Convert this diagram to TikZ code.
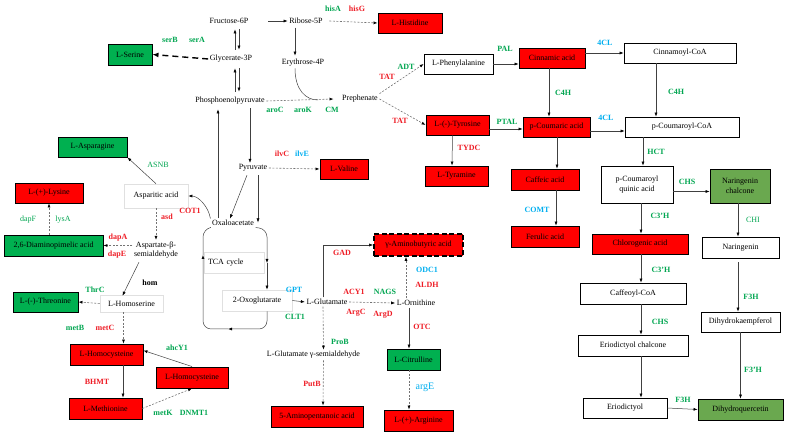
\documentclass[tikz,border=0pt]{standalone}
\usepackage{fontspec}
\setmainfont{Liberation Serif}
\usetikzlibrary{arrows.meta,calc}
\definecolor{boxred}{HTML}{FF0000}
\definecolor{boxgreen}{HTML}{00B050}
\definecolor{boxolive}{HTML}{6AA84F}
\definecolor{labgreen}{HTML}{00A550}
\definecolor{labred}{HTML}{EE1C25}
\definecolor{labblue}{HTML}{00AEEF}
\begin{document}
\begin{tikzpicture}[x=1pt,y=-1pt,
    font=\fontsize{8}{9.5}\selectfont,
    >={Latex[length=4pt,width=3pt,color=black]},
    cpd/.style={inner sep=1.5pt},
    box/.style={draw=black,line width=0.9pt,inner sep=1pt,minimum height=20pt,align=center},
    redbox/.style={box,fill=boxred},
    grnbox/.style={box,fill=boxgreen},
    olvbox/.style={box,fill=boxolive},
    whtbox/.style={box,fill=white,line width=0.7pt},
    gabbox/.style={box,fill=boxred,line width=1.6pt,dash pattern=on 5pt off 2.5pt},
    faint/.style={draw=black!12,line width=0.6pt,inner sep=1pt},
    enzg/.style={font=\fontsize{8}{9.5}\selectfont\bfseries,text=labgreen,inner sep=0pt},
    enzr/.style={font=\fontsize{8}{9.5}\selectfont\bfseries,text=labred,inner sep=0pt},
    enzb/.style={font=\fontsize{8}{9.5}\selectfont\bfseries,text=labblue,inner sep=0pt},
    enzk/.style={font=\fontsize{8}{9.5}\selectfont\bfseries,inner sep=0pt},
    thin/.style={font=\fontsize{8}{9.5}\selectfont},
    arr/.style={draw=black!75,line width=0.5pt},
    dsh/.style={draw=black!55,line width=0.6pt,dash pattern=on 2pt off 1.5pt}]
      \useasboundingbox (0,0) rectangle (788,435);
      \draw
        (229,21) node[cpd] (fru) {Fructose-6P}
        (306,21) node[cpd] (rib) {Ribose-5P}
        (231,59) node[cpd] (gly) {Glycerate-3P}
        (303,63) node[cpd] (ery) {Erythrose-4P}
        (230,101) node[cpd] (pep) {Phosphoenolpyruvate}
        (360,99) node[cpd] (pre) {Prephenate}
        (253,168) node[cpd] (pyr) {Pyruvate}
        (233,223) node[cpd] (oxa) {Oxaloacetate}
        (234,262.5) node[faint,minimum width=60pt,minimum height=21pt,text width=52pt] (tca) {TCA cycle}
        (257,300.5) node[faint,minimum width=70pt,minimum height=21pt] (oxg) {2-Oxoglutarate}
        (327,302) node[cpd] (glu) {L-Glutamate}
        (416,303) node[cpd] (orn) {L-Ornithine}
        (313.5,355) node[cpd] (gsa) {L-Glutamate γ-semialdehyde}
        (156,196) node[faint,minimum width=64pt,minimum height=24pt] (asp) {Asparitic acid}
        (156,250) node[cpd,align=center] (asa) {Aspartate-β-\\semialdehyde}
        (131.5,303.5) node[faint,minimum width=63pt,minimum height=17pt] (hse) {L-Homoserine};
      \draw
        (130,54.5) node[grnbox,minimum width=44pt,minimum height=21pt] (ser) {L-Serine}
        (410,23) node[redbox,minimum width=64pt] (his) {L-Histidine}
        (458.5,64) node[whtbox,minimum width=69pt] (phe) {L-Phenylalanine}
        (552,58) node[redbox,minimum width=66pt] (cin) {Cinnamic acid}
        (680,53) node[whtbox,minimum width=112pt,text width=104pt] (cco) {Cinnamoyl-CoA}
        (457.5,125) node[redbox,minimum width=63pt] (tyr) {L-(-)-Tyrosine}
        (556.5,127) node[redbox,minimum width=67pt] (pco) {p-Coumaric acid}
        (682,127) node[whtbox,minimum width=114pt] (pcc) {p-Coumaroyl-CoA}
        (456.5,176) node[redbox,minimum width=63pt] (tym) {L-Tyramine}
        (545,179.5) node[redbox,minimum width=68pt,minimum height=21pt] (caf) {Caffeic acid}
        (545,236.5) node[redbox,minimum width=68pt,minimum height=21pt] (fer) {Ferulic acid}
        (637,184.5) node[whtbox,minimum width=72pt,minimum height=37pt] (pcq) {p-Coumaroyl\\quinic acid}
        (740,186) node[olvbox,minimum width=60pt,minimum height=34pt] (nch) {Naringenin\\chalcone}
        (740.5,247.5) node[whtbox,minimum width=77pt,minimum height=21pt] (nar) {Naringenin}
        (640,244) node[redbox,minimum width=96pt] (chl) {Chlorogenic acid}
        (633,293.5) node[whtbox,minimum width=106pt,minimum height=21pt] (cfc) {Caffeoyl-CoA}
        (633,345.5) node[whtbox,minimum width=110pt,minimum height=21pt] (edc) {Eriodictyol chalcone}
        (625,408) node[whtbox,minimum width=84pt] (eri) {Eriodictyol}
        (740.5,322) node[whtbox,minimum width=79pt] (dhk) {Dihydrokaempferol}
        (740.5,409.5) node[olvbox,minimum width=85pt,minimum height=21pt] (dhq) {Dihydroquercetin}
        (344,169) node[redbox,minimum width=48pt] (val) {L-Valine}
        (92.5,147) node[grnbox,minimum width=69pt] (asn) {L-Asparagine}
        (49,193) node[redbox,minimum width=68pt] (lys) {L-(+)-Lysine}
        (53.5,245.5) node[grnbox,minimum width=99pt,minimum height=21pt] (dap) {2,6-Diaminopimelic acid}
        (45.5,302) node[grnbox,minimum width=65pt] (thr) {L-(-)-Threonine}
        (106.5,354.5) node[redbox,minimum width=73pt,minimum height=21pt] (hcy) {L-Homocysteine}
        (105.5,408.5) node[redbox,minimum width=73pt,minimum height=21pt] (met) {L-Methionine}
        (192,377.5) node[redbox,minimum width=72pt,minimum height=21pt] (shc) {L-Homocysteine}
        (418.5,245) node[gabbox,minimum width=89pt,minimum height=22pt] (gab) {γ-Aminobutyric acid}
        (413.5,359.5) node[grnbox,minimum width=53pt,minimum height=21pt] (cit) {L-Citrulline}
        (418.5,420.5) node[redbox,minimum width=69pt,minimum height=21pt] (arg) {L-(+)-Arginine}
        (317,416.5) node[redbox,minimum width=92pt,minimum height=21pt] (apa) {5-Aminopentanoic acid};
      \draw
        (170,40) node[enzg] (serB) {serB}
        (197,40) node[enzg] (serA) {serA}
        (333,9) node[enzg] (hisA) {hisA}
        (357,9) node[enzr] (hisG) {hisG}
        (275,110) node[enzg] (aroC) {aroC}
        (303,110) node[enzg] (aroK) {aroK}
        (332,110) node[enzg] (cm) {CM}
        (387,77) node[enzr] (tat1) {TAT}
        (400,121) node[enzr] (tat2) {TAT}
        (406,67) node[enzg] (adt) {ADT}
        (505,49) node[enzg] (pal) {PAL}
        (507,122) node[enzg] (ptal) {PTAL}
        (563,93) node[enzg] (c4h1) {C4H}
        (469,148) node[enzr] (tydc) {TYDC}
        (537,210) node[enzb] (comt) {COMT}
        (605,43) node[enzb] (cl1) {4CL}
        (606,118) node[enzb] (cl2) {4CL}
        (676,92) node[enzg] (c4h2) {C4H}
        (656,152) node[enzg] (hct) {HCT}
        (687,182) node[enzg] (chs1) {CHS}
        (753,220) node[enzg,thin] (chi) {CHI}
        (660,216) node[enzg] (c3h1) {C3'H}
        (661,270) node[enzg] (c3h2) {C3'H}
        (660,322) node[enzg] (chs2) {CHS}
        (751,297) node[enzg] (f3h1) {F3H}
        (753,370) node[enzg] (f3h2) {F3'H}
        (683,400) node[enzg] (f3h3) {F3H}
        (282,154) node[enzr] (ilvC) {ilvC}
        (302,154) node[enzb] (ilvE) {ilvE}
        (158,165) node[enzg,thin] (asnB) {ASNB}
        (190,211) node[enzr] (cot1) {COT1}
        (167,217) node[enzr] (asd) {asd}
        (28,220) node[enzg,thin] (dapF) {dapF}
        (63,220) node[enzg,thin] (lysA) {lysA}
        (118,238) node[enzr] (dapA) {dapA}
        (117,255) node[enzr] (dapE) {dapE}
        (150,283) node[enzk] (hom) {hom}
        (95,290) node[enzg] (thrC) {ThrC}
        (75,328) node[enzg] (metB) {metB}
        (105,328) node[enzr] (metC) {metC}
        (97,382) node[enzr] (bhmt) {BHMT}
        (177,348) node[enzg] (ahcY) {ahcY1}
        (163,413) node[enzg] (metK) {metK}
        (194,413) node[enzg] (dnmt) {DNMT1}
        (294,290) node[enzb] (gpt) {GPT}
        (295,317) node[enzg] (clt1) {CLT1}
        (342,253) node[enzr] (gad) {GAD}
        (354,292) node[enzr] (acy1) {ACY1}
        (385,292) node[enzg] (nags) {NAGS}
        (356,313) node[enzr] (argC) {ArgC}
        (383,315) node[enzr] (argD) {ArgD}
        (427,270) node[enzb] (odc1) {ODC1}
        (427,285) node[enzr] (aldh) {ALDH}
        (422,327) node[enzr] (otc) {OTC}
        (425,387) node[enzb,font=\fontsize{10}{12}\selectfont] (argE) {argE}
        (340,342) node[enzg] (proB) {ProB}
        (312,384) node[enzr] (putB) {PutB};
      \coordinate (merge) at (318,100);
      \coordinate (ltl) at (203,229);
      \coordinate (ltr) at (267,229);
      \coordinate (lbl) at (203,329);
      \coordinate (lbr) at (267,329);
      \coordinate (lmid) at (203,255);
      \coordinate (rmid) at (267,263);
      \coordinate (bmid) at (228,329);
      \begin{scope}[->,arr]
        \draw ($(fru.east)+(18,0)$) to (rib.west);
        \draw ($(gly.north)+(4,-4)$) to ($(fru.south)+(6,4)$);
        \draw ($(fru.south)+(10,4)$) to ($(gly.north)+(8,-4)$);
        \draw ($(pep.north)+(5,-4)$) to ($(gly.south)+(4,4)$);
        \draw ($(gly.south)+(8,4)$) to ($(pep.north)+(9,-4)$);
        \draw ($(rib.south)+(-11,2)$) to ($(ery.north)+(-8,-2)$);
        \draw[-] ($(ery.south)+(-8,0)$) .. controls +(0,22) and +(-12,0) .. (merge);
        \draw ($(pep.south)+(20,2)$) to ($(pyr.north)+(-3,0)$);
        \draw ($(oxa.north)+(-15,0)$) to ($(pep.south)+(-12,3)$);
        \draw ($(pyr.south)+(-6,2)$) to ($(oxa.north)+(-3,0)$);
        \draw ($(pyr.south)+(5,2)$) to ($(oxa.north)+(25,4)$);
        \draw (oxa.north west) .. controls +(-2,-12) and +(10,0) .. (asp.east);
        \draw (asp.north) to (asn.south east);
        \draw ($(asa.south)+(-17,2)$) to ($(hse.north)+(-9,1)$);
        \draw ($(hcy.south)+(16.5,0)$) to ($(met.north)+(17.5,0)$);
        \draw (shc.north) to ($(hcy.east)+(0,-4)$);
        \draw[rounded corners=8] (oxa.south east) -- (ltr) -- (rmid);
        \draw (rmid) to (oxg.north -| rmid);
        \draw[rounded corners=8] (oxg.south -| lbr) -- (lbr) -- (bmid);
        \draw[rounded corners=8] (bmid) -- (lbl) -- (lmid);
        \draw[-,rounded corners=8] (lmid) -- (ltl) -- (oxa.south west);
        \draw (oxg.east) to (glu.west);
        \draw ($(glu.north)+(-4,0)$) |- (gab.west);
        \draw ($(orn.south)+(-7,0)$) to ($(cit.north)+(-4.5,0)$);
        \draw (phe.east) to (phe.east -| cin.west);
        \draw (cin.east |- cco.west) to (cco.west);
        \draw ($(cin.south)+(-3,0)$) to ($(pco.north)+(-7.5,0)$);
        \draw ($(tyr.east)+(0,4)$) to ($(tyr.east -| pco.west)+(0,4)$);
        \draw ($(tyr.south)+(-5,0)$) to ($(tym.north)+(-4.5,0)$);
        \draw ($(pco.south)+(0.5,0)$) to ($(caf.north)+(12,0)$);
        \draw ($(caf.south)+(11,0)$) to ($(fer.north)+(11,0)$);
        \draw ($(pco.east)+(0,4)$) to ($(pcc.west)+(0,4)$);
        \draw ($(cco.south)+(-24,0)$) to ($(pcc.north)+(-26,0)$);
        \draw ($(pcc.south)+(-39,0)$) to ($(pcq.north)+(6,0)$);
        \draw ($(pcq.east)+(0,7)$) to ($(pcq.east -| nch.west)+(0,7)$);
        \draw ($(nch.south)+(-2,0)$) to ($(nar.north)+(-2.5,0)$);
        \draw ($(pcq.south)+(4,0)$) to ($(chl.north)+(1,0)$);
        \draw ($(chl.south)+(1,0)$) to ($(cfc.north)+(8,0)$);
        \draw ($(cfc.south)+(8,0)$) to ($(edc.north)+(8,0)$);
        \draw ($(edc.south)+(8,0)$) to ($(eri.north)+(16,0)$);
        \draw (eri.east) to (dhq.west);
        \draw ($(nar.south)+(-2.5,4)$) to ($(dhk.north)+(-2.5,0)$);
        \draw (dhk.south) to (dhq.north);
      \end{scope}
      \begin{scope}[->,dsh]
        \draw[line width=1.4pt,dash pattern=on 6pt off 4pt,draw=black,>={Latex[length=6pt,width=5pt]}] (gly.west) to (ser.east);
        \draw ($(rib.east)+(5,0)$) to (his.west);
        \draw (pep.east) to ($(pre.west)+(-7,0)$);
        \draw (pre.north east) to (phe.west);
        \draw (pre.east) to (tyr.west);
        \draw (pyr.east) to (val.west);
        \draw (asp.south) to (asa.north);
        \draw (asa.west |- dap.east) to (dap.east);
        \draw (dap.north -| lys.south) to (lys.south);
        \draw (hse.west) to (thr.east);
        \draw ($(hse.south)+(-8,0)$) to ($(hcy.north)+(17,0)$);
        \draw (met.east) to (shc.south);
        \draw (glu.east) to (orn.west);
        \draw ($(orn.north)+(-10,0)$) to ($(gab.south)+(-12.5,0)$);
        \draw ($(cit.south)+(-4.5,0)$) to ($(arg.north)+(-9.5,0)$);
        \draw ($(glu.south)+(-4,0)$) to ($(gsa.north)+(10,0)$);
        \draw ($(gsa.south)+(10,0)$) to ($(apa.north)+(6,0)$);
      \end{scope}
    \end{tikzpicture}
\end{document}
